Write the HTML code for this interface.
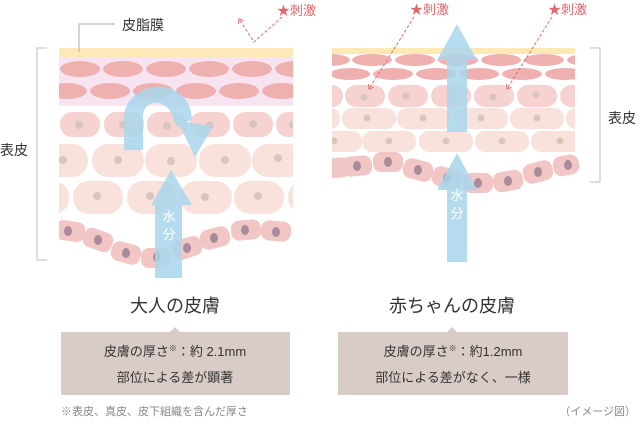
<!DOCTYPE html>
<html><head><meta charset="utf-8"><style>
html,body{margin:0;padding:0;background:#fff}
svg{display:block}
text{font-family:"Liberation Sans","Noto Sans CJK JP",sans-serif}
</style></head><body>
<svg width="640" height="424" viewBox="0 0 640 424" xmlns="http://www.w3.org/2000/svg">
<defs>
<clipPath id="cl"><rect x="59" y="40" width="234" height="240"/></clipPath>
<clipPath id="cr"><rect x="332" y="40" width="243" height="160"/></clipPath>
<clipPath id="cr2"><rect x="332" y="40" width="260" height="160"/></clipPath>
<marker id="ah" markerWidth="8" markerHeight="8" refX="4" refY="4" orient="auto"><path d="M0,1 L4,4 L0,7" fill="none" stroke="#e06a70" stroke-width="1"/></marker>
</defs>
<!-- LEFT -->
<g clip-path="url(#cl)">
<rect x="59" y="48" width="234" height="9" fill="#fde9b8"/>
<rect x="59" y="57" width="234" height="49" fill="#f8e4f1"/>
<g fill="#efb0b0">
<ellipse cx="80" cy="69" rx="20" ry="8"/><ellipse cx="123" cy="69" rx="20" ry="8"/><ellipse cx="166" cy="69" rx="20" ry="8"/><ellipse cx="209" cy="69" rx="20" ry="8"/><ellipse cx="252" cy="69" rx="20" ry="8"/><ellipse cx="295" cy="69" rx="20" ry="8"/>
<ellipse cx="67" cy="91" rx="20" ry="8"/><ellipse cx="110" cy="91" rx="20" ry="8"/><ellipse cx="153" cy="91" rx="20" ry="8"/><ellipse cx="196" cy="91" rx="20" ry="8"/><ellipse cx="239" cy="91" rx="20" ry="8"/><ellipse cx="282" cy="91" rx="20" ry="8"/>
</g>
<g fill="#f6d3d0">
<rect x="60" y="112" width="40" height="25" rx="12"/><rect x="104" y="112" width="40" height="25" rx="12"/><rect x="147" y="112" width="40" height="25" rx="12"/><rect x="190" y="112" width="40" height="25" rx="12"/><rect x="233" y="112" width="40" height="25" rx="12"/><rect x="276" y="112" width="40" height="25" rx="12"/>
</g>
<g fill="#f9e1dc">
<rect x="36" y="144" width="52" height="33" rx="16"/><rect x="92" y="144" width="52" height="33" rx="16"/><rect x="145" y="144" width="52" height="33" rx="16"/><rect x="199" y="144" width="52" height="33" rx="16"/><rect x="252" y="144" width="52" height="33" rx="16"/>
<rect x="17" y="181" width="52" height="33" rx="16"/><rect x="73" y="181" width="50" height="33" rx="16"/><rect x="127" y="181" width="50" height="33" rx="16"/><rect x="180" y="181" width="52" height="33" rx="16"/><rect x="234" y="181" width="50" height="33" rx="16"/><rect x="288" y="181" width="50" height="33" rx="16"/>
</g>
<g fill="#d9c6ba">
<circle cx="79" cy="125" r="4"/><circle cx="123" cy="125" r="4"/><circle cx="167" cy="126" r="4"/><circle cx="210" cy="125" r="4"/><circle cx="253" cy="124" r="4"/><circle cx="293" cy="125" r="4"/>
<circle cx="63" cy="160" r="4"/><circle cx="118" cy="160" r="4"/><circle cx="171" cy="161" r="4"/><circle cx="225" cy="160" r="4"/><circle cx="278" cy="158" r="4"/>
<circle cx="97" cy="196" r="4"/><circle cx="150" cy="196" r="4"/><circle cx="205" cy="197" r="4"/><circle cx="258" cy="196" r="4"/>
</g>
<g fill="#f3c6c6">
<rect x="55" y="221" width="30" height="20" rx="8" transform="rotate(8 70 231)"/>
<rect x="83" y="230" width="30" height="20" rx="8" transform="rotate(20 98 240)"/>
<rect x="111" y="243" width="30" height="20" rx="8" transform="rotate(15 126 253)"/>
<rect x="141" y="248" width="30" height="20" rx="8" transform="rotate(0 156 258)"/>
<rect x="172" y="238" width="30" height="20" rx="8" transform="rotate(-18 187 248)"/>
<rect x="200" y="228" width="30" height="20" rx="8" transform="rotate(-15 215 238)"/>
<rect x="231" y="220" width="30" height="20" rx="8" transform="rotate(-5 246 230)"/>
<rect x="261" y="221" width="30" height="20" rx="8" transform="rotate(5 276 231)"/>
</g>
<g fill="#a98b9c">
<ellipse cx="68" cy="231" rx="4" ry="5"/><ellipse cx="98" cy="240" rx="4" ry="5"/><ellipse cx="126" cy="253" rx="4" ry="5"/><ellipse cx="157" cy="257" rx="4" ry="5"/><ellipse cx="187" cy="248" rx="4" ry="5"/><ellipse cx="214" cy="238" rx="4" ry="5"/><ellipse cx="245" cy="230" rx="4" ry="5"/><ellipse cx="276" cy="232" rx="4" ry="5"/>
</g>
</g>
<!-- left arrows -->
<g fill="#a9d6ec" opacity="0.85">
<path d="M124,150 L124,118 C124,80 190,72 192,120 L186,122 L213,126 L195,157 L181,128 L175,124 C170,95 142,98 143,118 L143,150 Z"/>
<path d="M155,278 L155,205 L151,205 L171,170 L192,205 L182,205 L182,278 Z"/>
</g>
<text x="169" y="221" font-size="13" fill="#fff" text-anchor="middle">水</text>
<text x="169" y="239" font-size="13" fill="#fff" text-anchor="middle">分</text>
<path d="M47,48 L37,48 L37,260 L47,260" fill="none" stroke="#bdbdbd" stroke-width="1"/>
<text x="0" y="155" font-size="14" fill="#333">表皮</text>
<path d="M79,52 L79,24 L115,24" fill="none" stroke="#aaa" stroke-width="1"/>
<text x="122" y="30" font-size="14" fill="#333">皮脂膜</text>
<text x="277" y="15" font-size="13" fill="#e06a70">★刺激</text>
<path d="M282,17 L254,42 L239,19" fill="none" stroke="#e06a70" stroke-width="1" stroke-dasharray="3,2" marker-end="url(#ah)"/>

<!-- RIGHT -->
<g clip-path="url(#cr)">
<rect x="332" y="48" width="243" height="6" fill="#fde9b8"/>
<g fill="#efb0b0">
<ellipse cx="330" cy="60" rx="20" ry="6"/><ellipse cx="372" cy="60" rx="20" ry="6"/><ellipse cx="415" cy="60" rx="20" ry="6"/><ellipse cx="458" cy="60" rx="20" ry="6"/><ellipse cx="501" cy="60" rx="20" ry="6"/><ellipse cx="544" cy="60" rx="20" ry="6"/><ellipse cx="587" cy="60" rx="20" ry="6"/>
<ellipse cx="350" cy="74" rx="20" ry="6"/><ellipse cx="393" cy="74" rx="20" ry="6"/><ellipse cx="436" cy="74" rx="20" ry="6"/><ellipse cx="479" cy="74" rx="20" ry="6"/><ellipse cx="522" cy="74" rx="20" ry="6"/><ellipse cx="565" cy="74" rx="20" ry="6"/>
</g>
<g fill="#f6d3d0">
<rect x="303" y="85" width="40" height="22" rx="11"/><rect x="345" y="85" width="40" height="22" rx="11"/><rect x="388" y="85" width="40" height="22" rx="11"/><rect x="431" y="85" width="40" height="22" rx="11"/><rect x="474" y="85" width="40" height="22" rx="11"/><rect x="517" y="85" width="40" height="22" rx="11"/><rect x="560" y="85" width="40" height="22" rx="11"/>
</g>
<g fill="#f9e1dc">
<rect x="286" y="108" width="54" height="21" rx="10"/><rect x="342" y="108" width="54" height="21" rx="10"/><rect x="397" y="108" width="54" height="21" rx="10"/><rect x="454" y="108" width="54" height="21" rx="10"/><rect x="510" y="108" width="54" height="21" rx="10"/><rect x="566" y="108" width="54" height="21" rx="10"/>
<rect x="308" y="131" width="54" height="21" rx="10"/><rect x="362" y="131" width="54" height="21" rx="10"/><rect x="419" y="131" width="54" height="21" rx="10"/><rect x="475" y="131" width="54" height="21" rx="10"/><rect x="531" y="131" width="54" height="21" rx="10"/>
</g>
<g fill="#d9c6ba">
<circle cx="364" cy="97" r="3.5"/><circle cx="406" cy="96" r="3.5"/><circle cx="450" cy="96" r="3.5"/><circle cx="493" cy="97" r="3.5"/><circle cx="536" cy="95" r="3.5"/>
<circle cx="367" cy="118" r="3.5"/><circle cx="423" cy="118" r="3.5"/><circle cx="481" cy="118" r="3.5"/><circle cx="537" cy="118" r="3.5"/>
<circle cx="334" cy="141" r="3.5"/><circle cx="389" cy="141" r="3.5"/><circle cx="446" cy="141" r="3.5"/><circle cx="502" cy="141" r="3.5"/><circle cx="560" cy="141" r="3.5"/>
</g>
</g>
<g clip-path="url(#cr2)">
<g fill="#f3c6c6">
<rect x="320" y="158" width="30" height="20" rx="8" transform="rotate(-5 335 168)"/>
<rect x="342" y="156" width="30" height="20" rx="8" transform="rotate(-5 357 166)"/>
<rect x="373" y="152" width="30" height="20" rx="8" transform="rotate(0 388 162)"/>
<rect x="403" y="160" width="30" height="20" rx="8" transform="rotate(15 418 170)"/>
<rect x="432" y="168" width="30" height="20" rx="8" transform="rotate(15 447 178)"/>
<rect x="463" y="173" width="30" height="20" rx="8" transform="rotate(0 478 183)"/>
<rect x="493" y="171" width="30" height="20" rx="8" transform="rotate(-10 508 181)"/>
<rect x="523" y="162" width="30" height="20" rx="8" transform="rotate(-15 538 172)"/>
<rect x="553" y="155" width="26" height="20" rx="8" transform="rotate(-10 568 165)"/>
</g>
<g fill="#a98b9c">
<ellipse cx="357" cy="166" rx="4" ry="5"/><ellipse cx="388" cy="162" rx="4" ry="5"/><ellipse cx="418" cy="170" rx="4" ry="5"/><ellipse cx="447" cy="178" rx="4" ry="5"/><ellipse cx="478" cy="183" rx="4" ry="5"/><ellipse cx="508" cy="181" rx="4" ry="5"/><ellipse cx="538" cy="172" rx="4" ry="5"/><ellipse cx="568" cy="165" rx="4" ry="5"/>
</g>
</g>
<g fill="#a9d6ec" opacity="0.85">
<path d="M447,132 L447,60 L437,60 L457,24 L477,60 L467,60 L467,132 Z"/>
<path d="M447,262 L447,190 L437,190 L457,153 L477,190 L467,190 L467,262 Z"/>
</g>
<text x="457" y="200" font-size="13" fill="#fff" text-anchor="middle">水</text>
<text x="457" y="218" font-size="13" fill="#fff" text-anchor="middle">分</text>
<path d="M590,48 L600,48 L600,182 L590,182" fill="none" stroke="#bdbdbd" stroke-width="1"/>
<text x="608" y="123" font-size="14" fill="#333">表皮</text>
<text x="410" y="14" font-size="13" fill="#e06a70">★刺激</text>
<text x="548" y="14" font-size="13" fill="#e06a70">★刺激</text>
<path d="M414,17 L369,89" fill="none" stroke="#e06a70" stroke-width="1" stroke-dasharray="3,2" marker-end="url(#ah)"/>
<path d="M552,17 L507,89" fill="none" stroke="#e06a70" stroke-width="1" stroke-dasharray="3,2" marker-end="url(#ah)"/>

<text x="175" y="312" font-size="18" fill="#333" text-anchor="middle">大人の皮膚</text>
<text x="452" y="312" font-size="18" fill="#333" text-anchor="middle">赤ちゃんの皮膚</text>
<path d="M61,332 L170,332 L175,327 L180,332 L290,332 L290,395 L61,395 Z" fill="#d9ccc6"/>
<path d="M338,332 L447,332 L452,327 L457,332 L568,332 L568,395 L338,395 Z" fill="#d9ccc6"/>
<text x="175" y="356" font-size="13" fill="#333" text-anchor="middle">皮膚の厚さ<tspan font-size="8" dy="-5">※</tspan><tspan dy="5">：約 2.1mm</tspan></text>
<text x="175" y="382" font-size="13" fill="#333" text-anchor="middle">部位による差が顕著</text>
<text x="453" y="356" font-size="13" fill="#333" text-anchor="middle">皮膚の厚さ<tspan font-size="8" dy="-5">※</tspan><tspan dy="5">：約1.2mm</tspan></text>
<text x="453" y="382" font-size="13" fill="#333" text-anchor="middle">部位による差がなく、一様</text>
<text x="61" y="415" font-size="11" fill="#888">※表皮、真皮、皮下組織を含んだ厚さ</text>
<text x="636" y="415" font-size="11" fill="#888" text-anchor="end">（イメージ図）</text>
</svg>
</body></html>
